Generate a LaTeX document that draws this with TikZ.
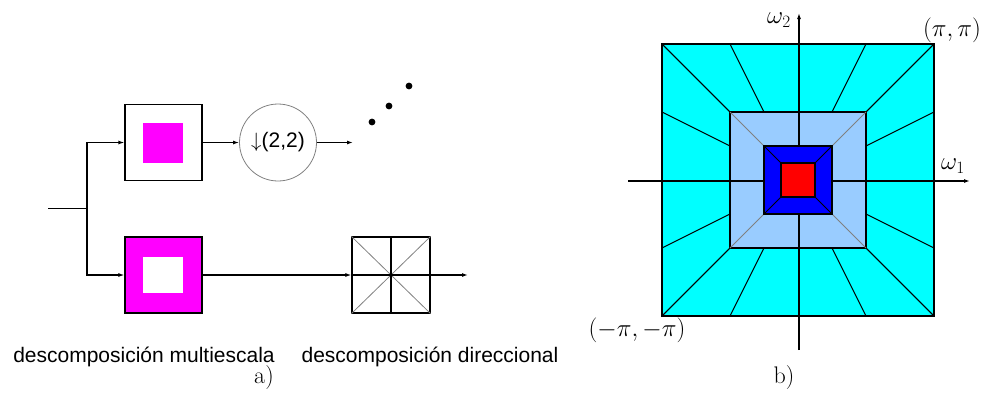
\documentclass[tikz,border=0pt]{standalone}
\usepackage{fontspec}
\newfontfamily\lblfont{Liberation Sans}
\usetikzlibrary{arrows.meta,positioning,shapes}
\definecolor{lblue}{RGB}{153,204,255}
\definecolor{cyanf}{RGB}{0,255,255}
\definecolor{magf}{RGB}{255,0,255}
\definecolor{bluef}{RGB}{0,0,255}
\definecolor{redf}{RGB}{255,0,0}

\begin{document}
\begin{tikzpicture}[x=1pt,y=-1pt,
  blk/.style={draw,line width=1.2pt,minimum width=77pt,minimum height=76pt,inner sep=0pt},
  flow/.style={-{Latex[length=6pt,width=4pt]},line width=1.2pt},
  edge/.style={line width=1.2pt},
  lbl/.style={font=\lblfont\fontsize{21}{25}\selectfont},
  mth/.style={font=\fontsize{24}{28}\selectfont}]
\useasboundingbox (0,0) rectangle (983,392);
% a) banco de filtros
\node[blk] (hp) at (163.5,142.5) {};
\fill[magf] (143,123) rectangle (183,163);
\node[blk,fill=magf] (lp) at (163.5,275) {};
\fill[white] (143,257) rectangle (183,293);
\node[draw=gray,circle,line width=0.8pt,minimum size=77pt,inner sep=0pt,lbl] (ds) at (278,142.5) {$\downarrow$(2,2)};
\node[blk,minimum width=78pt] (dfb) at (391,275) {};
\draw[gray,line width=0.8pt] (dfb.north west) -- (dfb.south east) (dfb.south west) -- (dfb.north east);
\draw[edge] (dfb.north) -- (dfb.south) (dfb.west) -- (dfb.east);
\coordinate (in) at (48,208.5);
\coordinate (br) at (87,208.5);
\coordinate (o1) at (353,142.5);
\coordinate (o2) at (468,275);
\draw[edge] (in) -- (br);
\draw[flow] (br) |- (hp);
\draw[flow] (br) |- (lp);
\draw[flow] (hp) -- (ds);
\draw[flow] (ds) -- (o1);
\draw[flow] (lp) -- (dfb);
\draw[flow] (dfb) -- (o2);
\foreach \p in {(372,122),(389,106),(409,86)}
  \fill \p circle (3.4);
\node[lbl] (lms) at (144,357) {descomposición multiescala};
\node[lbl] (ldir) at (430,357) {descomposición direccional};
\node[mth] (capa) at (264,378) {a)};
% b) particion del plano de frecuencias
\begin{scope}[shift={(798,180)}]
\filldraw[fill=cyanf,edge] (-136,-136) rectangle (136,136);
\foreach \t in {-1,-.5,.5,1} {
  \draw[line width=1pt] (\t*136,-136) -- (\t*68,-68);
  \draw[line width=1pt] (\t*136,136) -- (\t*68,68);
  \draw[line width=1pt] (-136,\t*136) -- (-68,\t*68);
  \draw[line width=1pt] (136,\t*136) -- (68,\t*68);
}
\filldraw[fill=lblue,edge] (-68,-68) rectangle (68,68);
\draw[gray,line width=0.8pt] (-68,-68) -- (68,68) (-68,68) -- (68,-68);
\draw[flow] (-170,1) -- (172,1);
\draw[flow] (1,170) -- (1,-167);
\filldraw[fill=bluef,edge] (-34,-34) rectangle (34,34);
\draw[line width=0.8pt] (-34,-34) -- (34,34) (-34,34) -- (34,-34);
\filldraw[fill=redf,edge] (-17,-17) rectangle (17,17);
\end{scope}
\node[mth] (w2) at (779,20) {$\omega_2$};
\node[mth] (w1) at (953,166) {$\omega_1$};
\node[mth] (pp) at (952,30) {$(\pi,\pi)$};
\node[mth] (mm) at (637,330) {$(-\pi,-\pi)$};
\node[mth] (capb) at (784,378) {b)};
\end{tikzpicture}
\end{document}
